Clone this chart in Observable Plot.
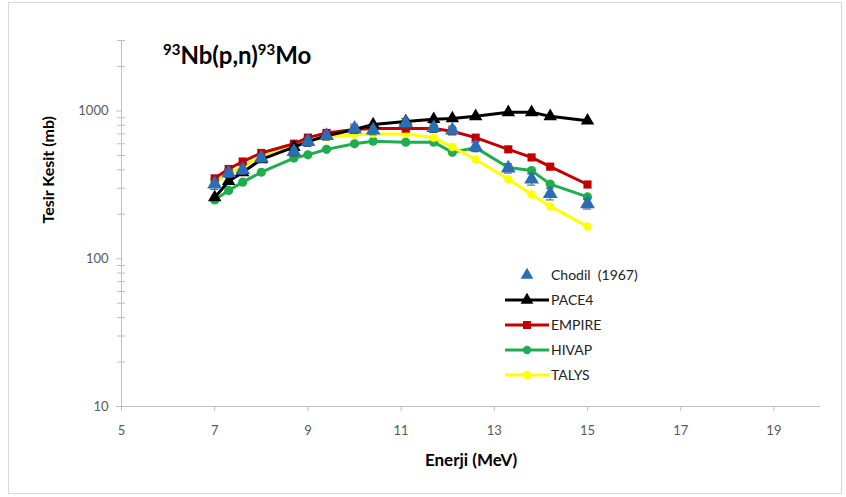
<!DOCTYPE html>
<html><head><meta charset="utf-8">
<script src="https://cdn.jsdelivr.net/npm/d3@7"></script>
<script src="https://cdn.jsdelivr.net/npm/@observablehq/plot@0.6"></script>
<style>
body{margin:0;background:#fff;font-family:Lato,"Open Sans",sans-serif;}
#wrap{position:relative;width:846px;height:497px;overflow:hidden;}
#frame{position:absolute;left:8px;top:2px;width:832px;height:490px;border:1px solid #d9d9d9;pointer-events:none;}
#title{position:absolute;left:163px;top:40px;font-weight:bold;font-size:24px;color:#000;white-space:nowrap;}
#title sup{font-size:15px;vertical-align:9px;line-height:0;}
#legend{position:absolute;left:504px;top:262px;font-size:14px;color:#222;}
#legend .row{height:25px;display:flex;align-items:center;}
#legend svg{width:46px;height:20px;display:block;}
</style></head>
<body>
<div id="wrap"><div id="chart"></div><div id="frame"></div>
<div id="title"><sup>93</sup>Nb(p,n)<sup>93</sup>Mo</div>
<div id="legend"></div>
</div>
<script>
const energy = [7, 7.3, 7.6, 8, 8.7, 9, 9.4, 10, 10.4, 11.1, 11.7, 12.1, 12.6, 13.3, 13.8, 14.2, 15];
const chodil = [320, 380, 400, 480, 530, 620, 680, 760, 740, 830, 770, 740, 570, 410, 345, 275, 235];
const chodilErr = [25, 25, 28, 30, 35, 45, 45, 55, 50, 60, 55, 50, 40, 30, 30, 25, 18];
const pace4 = [260, 335, 385, 470, 570, 620, 680, 750, 810, 850, 880, 890, 920, 980, 980, 920, 860];
const empire = [350, 405, 455, 520, 600, 660, 710, 750, 760, 760, 760, 730, 660, 550, 485, 420, 318];
const hivap = [250, 290, 330, 385, 480, 505, 550, 600, 625, 615, 615, 525, 565, 415, 395, 320, 262];
const talys = [330, 375, 420, 490, 575, 625, 665, 690, 700, 700, 660, 570, 470, 345, 272, 226, 165];
const xTicks = [5, 7, 9, 11, 13, 15, 17, 19];
const yMajor = [10, 100, 1000];
const yMinor = [20,30,40,50,60,70,80,90,200,300,400,500,600,700,800,900,2000,3000];
const seriesNames = ["PACE4", "EMPIRE", "HIVAP", "TALYS"];
const seriesColors = ["#000000", "#c00000", "#1fae4f", "#ffff00"];
const seriesSymbols = ["triangle", "square", "circle", "circle"];
const seriesR = [5, 4.6, 4.6, 4.2];
const seriesValues = [pace4, empire, hivap, talys];

const rows = s => energy.map((e, i) => ({x: e, y: seriesValues[s][i]}));
const chodilRows = energy.map((e, i) => ({x: e, y: chodil[i], lo: chodil[i] - chodilErr[i], hi: chodil[i] + chodilErr[i]}));

const drawOrder = [2, 3, 1, 0];
const seriesMarks = drawOrder.flatMap(s => [
  Plot.line(rows(s), {x: "x", y: "y", stroke: seriesColors[s], strokeWidth: 3, curve: "linear"}),
  Plot.dot(rows(s), {x: "x", y: "y", symbol: () => seriesSymbols[s], r: seriesR[s], fill: seriesColors[s], stroke: "none"})
]);

const chart = Plot.plot({
  width: 846, height: 497,
  marginLeft: 121, marginRight: 26, marginTop: 40, marginBottom: 91,
  style: {fontFamily: "Lato, 'Open Sans', sans-serif", background: "transparent"},
  x: {domain: [5, 20]},
  y: {type: "log", domain: [10, 3000]},
  marks: [
    Plot.ruleX([5], {y1: 10, y2: 3000, stroke: "#bfbfbf"}),
    Plot.ruleY([10], {x1: 5, x2: 20, stroke: "#bfbfbf"}),
    Plot.ruleY(yMinor, {y: d => d, x1: 5, x2: 5, insetLeft: -4, insetRight: -4, stroke: "#bfbfbf"}),
    Plot.ruleY(yMajor, {y: d => d, x1: 5, x2: 5, insetLeft: -5, insetRight: -1, stroke: "#bfbfbf"}),
    Plot.axisX(xTicks, {tickSize: 5, tickPadding: 14, stroke: "#bfbfbf", fill: "#595959", fontSize: 13, tickFormat: d => String(d), label: null}),
    Plot.axisY(yMajor, {tickSize: 0, tickPadding: 13, fill: "#595959", fontSize: 13, tickFormat: d => String(d), label: null}),
    Plot.text(["Enerji (MeV)"], {frameAnchor: "bottom", dy: 59, text: d => d, fontWeight: "bold", fontSize: 17, fill: "#000"}),
    Plot.text(["Tesir Kesit (mb)"], {frameAnchor: "left", dx: -73, rotate: -90, text: d => d, fontWeight: "bold", fontSize: 16, fill: "#000"}),
    ...seriesMarks,
    Plot.ruleX(chodilRows, {x: "x", y1: "lo", y2: "hi", stroke: "#3a4f66", strokeWidth: 1}),
    Plot.ruleY(chodilRows, {y: "hi", x1: "x", x2: "x", insetLeft: -4, insetRight: -4, stroke: "#3a4f66"}),
    Plot.ruleY(chodilRows, {y: "lo", x1: "x", x2: "x", insetLeft: -4, insetRight: -4, stroke: "#3a4f66"}),
    Plot.dot(chodilRows, {x: "x", y: "y", symbol: "triangle", r: 5.5, fill: "#2a6fb5", stroke: "none"})
  ]
});
document.getElementById("chart").appendChild(chart);

// legend
const legendItems = [{name: "Chodil  (1967)", color: "#2a6fb5", symbol: "triangle", line: false}]
  .concat(seriesNames.map((n, i) => ({name: n, color: seriesColors[i], symbol: seriesSymbols[i], line: true})));
const leg = document.getElementById("legend");
const symPath = {
  triangle: d3.symbol(d3.symbolTriangle, 70)(),
  square: d3.symbol(d3.symbolSquare, 64)(),
  circle: d3.symbol(d3.symbolCircle, 55)()
};
legendItems.forEach(it => {
  const row = document.createElement("div");
  row.className = "row";
  row.innerHTML = `<svg viewBox="0 0 46 20">${it.line ? `<line x1="1" x2="45" y1="10" y2="10" stroke="${it.color}" stroke-width="3"/>` : ""}<path transform="translate(23,10)" d="${symPath[it.symbol]}" fill="${it.color}"/></svg><span style="margin-left:1px;white-space:pre">${it.name}</span>`;
  leg.appendChild(row);
});
</script>
</body></html>
